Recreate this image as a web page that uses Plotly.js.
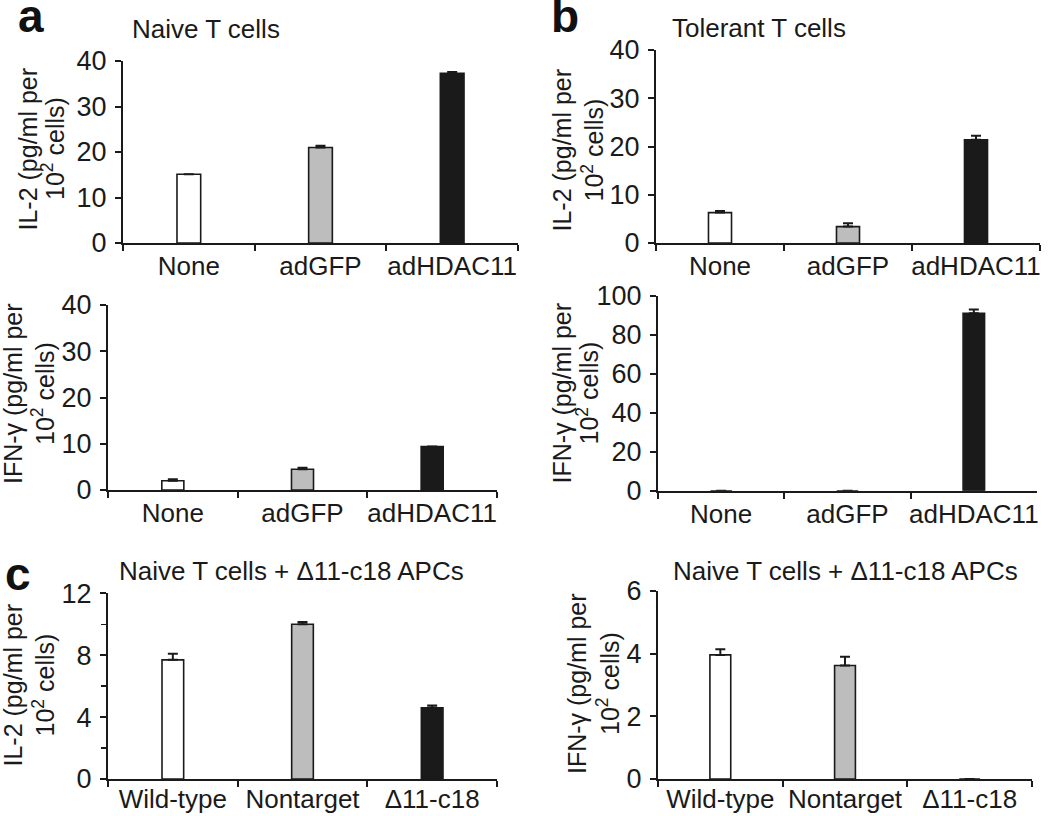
<!DOCTYPE html>
<html>
<head>
<meta charset="utf-8">
<script src="https://cdn.plot.ly/plotly-3.0.1.min.js"></script>
<style>html,body{margin:0;padding:0;background:#fff;}#chart{width:1050px;height:816px;}</style>
</head>
<body>
<div id="chart"></div>
<script>
// ---- data ----
const categoriesAB = ['None', 'adGFP', 'adHDAC11'];
const categoriesC = ['Wild-type', 'Nontarget', '\u039411-c18'];

const naiveIL2 = [15.1, 21.0, 37.3];
const naiveIL2Err = [0, 0.4, 0.3];
const tolerantIL2 = [6.3, 3.4, 21.4];
const tolerantIL2Err = [0.35, 0.7, 0.85];
const naiveIFN = [2.0, 4.5, 9.4];
const naiveIFNErr = [0.3, 0.3, 0];
const tolerantIFN = [0, 0, 91.1];
const tolerantIFNErr = [0, 0, 2.0];
const apcIL2 = [7.7, 10.0, 4.6];
const apcIL2Err = [0.4, 0.15, 0.15];
const apcIFN = [3.96, 3.62, 0];
const apcIFNErr = [0.18, 0.28, 0];

const panelTitles = ['Naive T cells', 'Tolerant T cells', 'Naive T cells + \u039411-c18 APCs', 'Naive T cells + \u039411-c18 APCs'];
const panelLetters = ['a', 'b', 'c'];
const il2TitleLines = ['IL-2 (pg/ml per', '10<sup>2</sup> cells)'];
const ifnTitleLines = ['IFN-\u03b3 (pg/ml per', '10<sup>2</sup> cells)'];

// ---- styles ----
const barColors = ['#ffffff', '#bdbdbd', '#1a1a1a'];
const ink = '#1a1a1a';
const FONT = 'Liberation Sans, Arial, Helvetica, sans-serif';
const W = 1050, H = 816;

function bar(x, y, err, idx, width) {
  const s = idx === 1 ? '' : String(idx);
  return {
    type: 'bar', x: x, y: y,
    xaxis: 'x' + s, yaxis: 'y' + s,
    width: width,
    marker: {color: barColors, line: {color: ink, width: 1.6}},
    error_y: {type: 'data', symmetric: false, array: err, arrayminus: y.map(() => 0),
              color: ink, thickness: 2, width: 5},
    hoverinfo: 'x+y', showlegend: false
  };
}

const traces = [
  bar(categoriesAB, naiveIL2, naiveIL2Err, 1, 0.18),
  bar(categoriesAB, tolerantIL2, tolerantIL2Err, 2, 0.18),
  bar(categoriesAB, naiveIFN, naiveIFNErr, 3, 0.17),
  bar(categoriesAB, tolerantIFN, tolerantIFNErr, 4, 0.17),
  bar(categoriesC, apcIL2, apcIL2Err, 5, 0.167),
  bar(categoriesC, apcIFN, apcIFNErr, 6, 0.167)
];

// pixel boxes: [left, right, top, bottom]
const boxes = [
  [123, 518, 61, 243],
  [656, 1040, 50, 243],
  [108, 497, 305, 490],
  [658, 1037, 296, 490.7],
  [108, 497, 593.3, 779],
  [658, 1032, 591, 779]
];
const yRanges = [[0, 40], [0, 40], [0, 40], [0, 100], [0, 12], [0, 6]];
const yDticks = [10, 10, 10, 20, 4, 2];
const xLabelShift = [-1, -1, -1, -1, -4, -4];
const yTitleLines = [il2TitleLines, il2TitleLines, ifnTitleLines, ifnTitleLines, il2TitleLines, ifnTitleLines];
// y-title line centres: [line1 x, line2 x, y]
const yTitlePos = [
  [27.5, 53, 149],
  [561, 592, 150.5],
  [13, 43, 394],
  [562, 588, 393.5],
  [12.5, 43.5, 685],
  [577, 608, 684]
];

const layout = {
  width: W, height: H,
  margin: {l: 0, r: 0, t: 0, b: 0},
  paper_bgcolor: '#ffffff', plot_bgcolor: '#ffffff',
  font: {family: FONT, size: 26, color: ink},
  showlegend: false,
  annotations: []
};

boxes.forEach((b, i) => {
  const s = i === 0 ? '' : String(i + 1);
  const xa = {
    domain: [b[0] / W, b[1] / W],
    anchor: 'y' + s,
    type: 'category', range: [-0.5, 2.5],
    tickson: 'boundaries', ticks: 'outside', ticklen: 6, tickwidth: 2, tickcolor: ink,
    tickangle: 0,
    ticklabelstandoff: xLabelShift[i],
    showline: true, linewidth: 2, linecolor: ink,
    showgrid: false, zeroline: false,
    tickfont: {family: FONT, size: 26, color: ink},
    automargin: false,
    fixedrange: true
  };
  const ya = {
    domain: [1 - b[3] / H, 1 - b[2] / H],
    anchor: 'x' + s,
    range: yRanges[i], dtick: yDticks[i], tick0: 0,
    ticks: 'outside', ticklen: 6, tickwidth: 2, tickcolor: ink,
    showline: true, linewidth: 2, linecolor: ink,
    showgrid: false, zeroline: false,
    tickfont: {family: FONT, size: 27, color: ink},
    ticklabelstandoff: 3,
    automargin: false,
    fixedrange: true
  };
  if (i === 4) {
    ya.minor = {dtick: 2, ticks: 'outside', ticklen: 5, tickwidth: 1.5, tickcolor: ink, showgrid: false};
  }
  layout['xaxis' + s] = xa;
  layout['yaxis' + s] = ya;

  // y-axis title, one annotation per line
  const p = yTitlePos[i];
  yTitleLines[i].forEach((line, k) => {
    layout.annotations.push({
      text: line, xref: 'paper', yref: 'paper',
      x: p[k] / W, y: 1 - p[2] / H,
      xanchor: 'center', yanchor: 'middle', textangle: -90, showarrow: false,
      font: {family: FONT, size: 25, color: ink}
    });
  });
});

// panel titles
const titlePos = [[206, 29.5], [758.5, 28.5], [291.5, 570.5], [845.5, 570.5]];
panelTitles.forEach((t, i) => {
  layout.annotations.push({
    text: t, xref: 'paper', yref: 'paper',
    x: titlePos[i][0] / W, y: 1 - titlePos[i][1] / H,
    xanchor: 'center', yanchor: 'middle', showarrow: false,
    font: {family: FONT, size: 26, color: ink}
  });
});

// panel letters
const letterPos = [[31, 16], [565, 16], [18, 574]];
panelLetters.forEach((t, i) => {
  layout.annotations.push({
    text: '<b>' + t + '</b>', xref: 'paper', yref: 'paper',
    x: letterPos[i][0] / W, y: 1 - letterPos[i][1] / H,
    xanchor: 'center', yanchor: 'middle', showarrow: false,
    font: {family: FONT, size: 46, color: '#111111'}
  });
});

Plotly.newPlot('chart', traces, layout, {displayModeBar: false, staticPlot: true});
</script>
</body>
</html>
